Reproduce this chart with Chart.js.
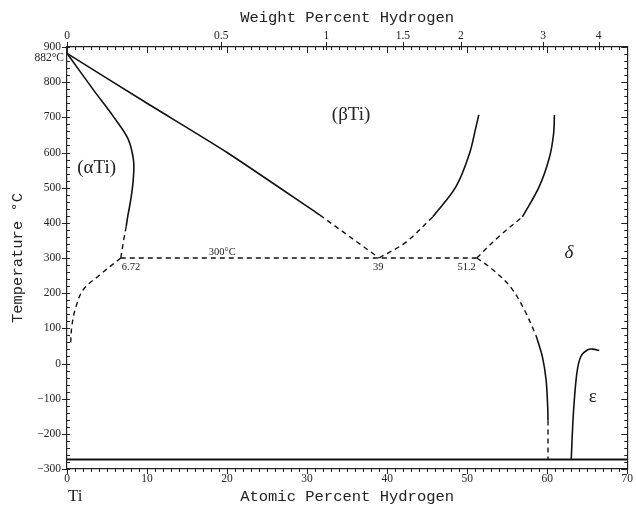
<!DOCTYPE html>
<html><head><meta charset="utf-8">
<script src="https://cdn.jsdelivr.net/npm/chart.js@4"></script>
<style>html,body{margin:0;padding:0;background:#fff}</style>
</head><body>
<canvas id="c" width="636" height="507"></canvas>
<script>
// ---- tick labels ----
const weightTicks = [0, 0.5, 1, 1.5, 2, 3, 4];
const atomicRange = [0, 70];
const tempRange = [-300, 900];

// ---- phase boundaries (x = atomic % H, T = °C) ----
const alphaSolidX = [0, 3.3, 5.8, 7.6, 8.3, 8.3, 8.0, 7.6, 7.4];
const alphaSolidT = [882, 778, 702, 640, 580, 530, 470, 420, 390];
const alphaDashX = [7.4, 7.0, 6.72];
const alphaDashT = [390, 340, 300];
const alphaLowX = [6.72, 4.1, 2.0, 1.0, 0.6, 0.45];
const alphaLowT = [300, 252, 209, 152, 105, 57];
const betaSolidX = [0, 10, 20, 31.6];
const betaSolidT = [882, 740, 600, 422];
const betaDashX = [31.6, 39];
const betaDashT = [422, 300];
const betaRDashX = [39, 42.4, 45.7];
const betaRDashT = [300, 346, 417];
const betaRSolidX = [45.7, 48.6, 50.3, 51.1, 51.45];
const betaRSolidT = [417, 503, 598, 673, 707];
const deltaLDashX = [51.2, 54.0, 56.9];
const deltaLDashT = [300, 362, 417];
const deltaLSolidX = [56.9, 59.0, 60.3, 60.8, 60.9];
const deltaLSolidT = [417, 503, 588, 654, 707];
const deltaRDashX = [51.2, 53.3, 55.5, 57.2, 58.6];
const deltaRDashT = [300, 265, 215, 150, 80];
const deltaRSolidX = [58.6, 59.4, 59.86, 60.06, 60.1];
const deltaRSolidT = [80, 19, -47, -123, -162];
const deltaBotDashX = [60.1, 60.1];
const deltaBotDashT = [-162, -273];
const epsX = [63.0, 63.27, 63.7, 64.2, 65.05, 65.7, 66.5];
const epsT = [-273, -142, -28, 20, 39, 41, 37];
const eutectoidX = [6.72, 51.2];
const eutectoidT = [300, 300];
const zeroKX = [0, 70];
const zeroKT = [-273, -273];

// ---- annotations ----
const phaseLabels = ['(αTi)', '(βTi)', 'δ', 'ε'];
const phaseX = [3.7, 35.5, 62.7, 65.7];
const phaseT = [556, 707, 313, -94];
const pointLabels = ['6.72', '39', '51.2'];
const pointX = [6.72, 39, 51.2];

function pts(xs, ts) { return xs.map((x, i) => ({x: x, y: ts[i]})); }
function atFromWt(w) { const a = w / 1.008, b = (100 - w) / 47.867; return a / (a + b) * 100; }

const DASH = [5, 4];
function ds(xs, ts, dashed, w, tension) {
  return {data: pts(xs, ts), borderColor: '#111', borderWidth: w || (dashed ? 1.4 : 1.6),
    borderDash: dashed ? DASH : [], pointRadius: 0, tension: tension == null ? 0.35 : tension,
    fill: false, xAxisID: 'x', yAxisID: 'y'};
}

const datasets = [
  ds(alphaSolidX, alphaSolidT, false),
  ds(alphaDashX, alphaDashT, true),
  ds(alphaLowX, alphaLowT, true),
  ds(betaSolidX, betaSolidT, false, null, 0.2),
  ds(betaDashX, betaDashT, true, null, 0),
  ds(betaRDashX, betaRDashT, true),
  ds(betaRSolidX, betaRSolidT, false),
  ds(deltaLDashX, deltaLDashT, true),
  ds(deltaLSolidX, deltaLSolidT, false),
  ds(deltaRDashX, deltaRDashT, true),
  ds(deltaRSolidX, deltaRSolidT, false),
  ds(deltaBotDashX, deltaBotDashT, true, null, 0),
  ds(epsX, epsT, false),
  ds(eutectoidX, eutectoidT, true, 1.3, 0),
  ds(zeroKX, zeroKT, false, 2, 0)
];

const TXT = '#222';
const serif = 'Liberation Serif';
const mono = 'Liberation Mono';

const decor = {
  id: 'decor',
  afterDraw(chart) {
    const {ctx, chartArea: a, scales} = chart;
    const xs = scales.x, ys = scales.y;
    ctx.save();
    ctx.strokeStyle = '#222'; ctx.lineWidth = 1;
    ctx.beginPath();
    for (let v = atomicRange[0]; v <= atomicRange[1]; v += 1) {
      const px = Math.round(xs.getPixelForValue(v)) + 0.5;
      const major = v % 10 === 0;
      ctx.moveTo(px, a.bottom); ctx.lineTo(px, a.bottom + (major ? 5 : 3));
      ctx.moveTo(px, a.top); ctx.lineTo(px, a.top + (major ? 6 : 3));
    }
    weightTicks.forEach(w => {
      const px = Math.round(xs.getPixelForValue(atFromWt(w))) + 0.5;
      ctx.moveTo(px, a.top + 3); ctx.lineTo(px, a.top - 5);
    });
    for (let t = tempRange[0]; t <= tempRange[1]; t += 20) {
      const py = Math.round(ys.getPixelForValue(t)) + 0.5;
      const major = t % 100 === 0;
      if (major) { ctx.moveTo(a.left - 5, py); ctx.lineTo(a.left + 3, py); }
      else { ctx.moveTo(a.left, py); ctx.lineTo(a.left + 3, py); }
      ctx.moveTo(a.right, py); ctx.lineTo(a.right - (major ? 6 : 3), py);
    }
    ctx.stroke();

    ctx.fillStyle = TXT;
    ctx.textBaseline = 'middle';
    // 882°C
    ctx.font = '11.5px "' + serif + '"';
    ctx.textAlign = 'right';
    ctx.fillText('882°C', a.left - 3, ys.getPixelForValue(882) + 5);
    // point labels at 300 °C
    const y300 = ys.getPixelForValue(300);
    ctx.font = '10.5px "' + serif + '"';
    ctx.textAlign = 'left';
    ctx.fillText(pointLabels[0], xs.getPixelForValue(pointX[0]) + 1, y300 + 9);
    ctx.textAlign = 'center';
    ctx.fillText(pointLabels[1], xs.getPixelForValue(pointX[1]) - 1, y300 + 9);
    ctx.textAlign = 'right';
    ctx.fillText(pointLabels[2], xs.getPixelForValue(pointX[2]) - 1, y300 + 9);
    ctx.textAlign = 'center';
    ctx.fillText('300°C', xs.getPixelForValue(19.4), y300 - 6);
    // phase labels
    phaseLabels.forEach((s, i) => {
      ctx.font = (i === 2 ? 'italic ' : '') + '19px "' + serif + '"';
      ctx.fillText(s, xs.getPixelForValue(phaseX[i]), ys.getPixelForValue(phaseT[i]));
    });
    // Ti
    ctx.font = '17px "' + serif + '"';
    ctx.textAlign = 'left';
    ctx.fillText('Ti', a.left + 1, 497);
    ctx.restore();
  }
};

const noGrid = {display: false, drawTicks: false, tickLength: 0};

new Chart(document.getElementById('c'), {
  type: 'line',
  data: {datasets: datasets},
  plugins: [decor],
  options: {
    responsive: false, animation: false,
    layout: {padding: 0},
    plugins: {legend: {display: false}, tooltip: {enabled: false}},
    scales: {
      x: {type: 'linear', position: 'bottom', min: atomicRange[0], max: atomicRange[1],
        ticks: {stepSize: 10, color: TXT, font: {family: serif, size: 11.5}, padding: 3, maxRotation: 0},
        grid: noGrid, border: {display: true, color: '#222', width: 1.2},
        title: {display: true, text: 'Atomic Percent Hydrogen', color: TXT,
          font: {family: mono, size: 15.5}, padding: {top: 0, bottom: 1}},
        afterFit: s => { s.height = 38; }},
      xTop: {type: 'linear', position: 'top', min: atomicRange[0], max: atomicRange[1],
        afterBuildTicks: s => { s.ticks = weightTicks.map(w => ({value: atFromWt(w)})); },
        ticks: {autoSkip: false, maxRotation: 0, color: TXT, font: {family: serif, size: 11.5}, padding: 4,
          callback: (v, i) => String(weightTicks[i])},
        grid: noGrid, border: {display: true, color: '#222', width: 1.2},
        title: {display: true, text: 'Weight Percent Hydrogen', color: TXT,
          font: {family: mono, size: 15.5}, padding: {top: 9, bottom: 0}},
        afterFit: s => { s.height = 47; }},
      y: {type: 'linear', position: 'left', min: tempRange[0], max: tempRange[1],
        ticks: {stepSize: 100, color: TXT, font: {family: serif, size: 11.5}, padding: 6,
          callback: v => String(v).replace('-', '\u2212')},
        grid: noGrid, border: {display: true, color: '#222', width: 1.2},
        title: {display: true, text: 'Temperature °C', color: TXT,
          font: {family: mono, size: 15.5}, padding: {top: 9, bottom: 0}},
        afterFit: s => { s.width = 67; }},
      yRight: {type: 'linear', position: 'right', min: tempRange[0], max: tempRange[1],
        ticks: {display: false}, grid: noGrid,
        border: {display: true, color: '#222', width: 1.2},
        afterFit: s => { s.width = 8; }}
    }
  }
});
</script>
</body></html>
